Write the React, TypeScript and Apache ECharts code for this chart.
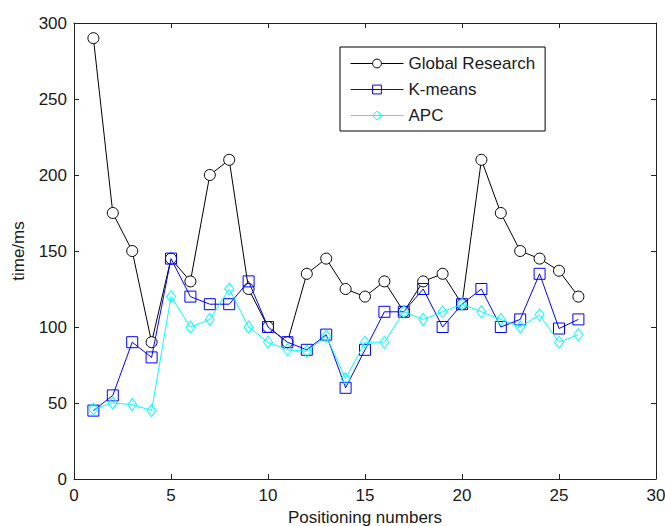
import React, { useEffect, useRef } from "react";
import * as echarts from "echarts";

// Positioning numbers 1..26
const positions = [1, 2, 3, 4, 5, 6, 7, 8, 9, 10, 11, 12, 13, 14, 15, 16, 17, 18, 19, 20, 21, 22, 23, 24, 25, 26];

// Positioning time (ms) for each method
const globalResearch = [290, 175, 150, 90, 145, 130, 200, 210, 125, 100, 90, 135, 145, 125, 120, 130, 110, 130, 135, 115, 210, 175, 150, 145, 137, 120];
const kMeans = [45, 55, 90, 80, 145, 120, 115, 115, 130, 100, 90, 85, 95, 60, 85, 110, 110, 125, 100, 115, 125, 100, 105, 135, 99, 105];
const apc = [46, 50, 49, 45, 120, 100, 105, 125, 100, 90, 85, 84, 94, 66, 90, 90, 110, 105, 110, 115, 110, 105, 100, 108, 90, 95];

const FONT = "'Liberation Sans', Arial, sans-serif";
const TEXT = "#1a1a1a";
const AXIS = "#222222";

const pairs = (ys: number[]) => positions.map((x, i) => [x, ys[i]]);

export default function App() {
  const ref = useRef<HTMLDivElement>(null);

  useEffect(() => {
    if (!ref.current) return;
    const chart = echarts.init(ref.current, undefined, { renderer: "svg" });

    const axisBase = {
      type: "value" as const,
      axisLine: { show: true, onZero: false, lineStyle: { color: AXIS, width: 1 } },
      axisTick: { show: true, inside: true, length: 5, lineStyle: { color: AXIS } },
      splitLine: { show: false },
    };

    chart.setOption({
      animation: false,
      backgroundColor: "#ffffff",
      textStyle: { fontFamily: FONT },
      grid: {
        left: 74,
        right: 9,
        top: 23,
        bottom: 47,
        containLabel: false,
        outerBoundsMode: "none",
      },
      legend: {
        orient: "vertical",
        left: 340,
        top: 47,
        backgroundColor: "#ffffff",
        borderColor: "#000000",
        borderWidth: 1,
        borderRadius: 0,
        padding: [8, 10, 7, 10],
        itemWidth: 53,
        itemHeight: 11,
        itemGap: 9,
        lineStyle: { width: 1 },
        itemStyle: { borderWidth: 1 },
        textStyle: { fontFamily: FONT, fontSize: 17, color: TEXT },
        data: ["Global Research", "K-means", "APC"],
      },
      xAxis: [
        {
          ...axisBase,
          position: "bottom",
          min: 0,
          max: 30,
          interval: 5,
          name: "Positioning numbers",
          nameLocation: "middle",
          nameGap: 29,
          nameTextStyle: { fontFamily: FONT, fontSize: 17, color: TEXT },
          axisLabel: { fontFamily: FONT, fontSize: 17, color: TEXT, margin: 8 },
        },
        {
          ...axisBase,
          position: "top",
          min: 0,
          max: 30,
          interval: 5,
          axisLabel: { show: false },
        },
      ],
      yAxis: [
        {
          ...axisBase,
          position: "left",
          min: 0,
          max: 300,
          interval: 50,
          name: "time/ms",
          nameLocation: "middle",
          nameGap: 47,
          nameTextStyle: { fontFamily: FONT, fontSize: 17, color: TEXT },
          axisLabel: { fontFamily: FONT, fontSize: 17, color: TEXT, margin: 7 },
        },
        {
          ...axisBase,
          position: "right",
          min: 0,
          max: 300,
          interval: 50,
          axisLabel: { show: false },
        },
      ],
      series: [
        {
          name: "Global Research",
          type: "line",
          data: pairs(globalResearch),
          symbol: "circle",
          symbolSize: 11,
          showAllSymbol: true,
          lineStyle: { color: "#000000", width: 1 },
          itemStyle: { color: "#ffffff", borderColor: "#000000", borderWidth: 1 },
          emphasis: { disabled: true },
          z: 2,
        },
        {
          name: "K-means",
          type: "line",
          data: pairs(kMeans),
          symbol: "rect",
          symbolSize: 11,
          showAllSymbol: true,
          lineStyle: { color: "#0000ff", width: 1 },
          itemStyle: { color: "rgba(255,255,255,0)", borderColor: "#0000ff", borderWidth: 1 },
          emphasis: { disabled: true },
          z: 3,
        },
        {
          name: "APC",
          type: "line",
          data: pairs(apc),
          symbol: "diamond",
          symbolSize: [9, 12],
          showAllSymbol: true,
          lineStyle: { color: "#00ffff", width: 1 },
          itemStyle: { color: "rgba(255,255,255,0)", borderColor: "#00ffff", borderWidth: 1 },
          emphasis: { disabled: true },
          z: 4,
        },
      ],
    });

    return () => chart.dispose();
  }, []);

  return <div ref={ref} style={{ width: 665, height: 526, position: "absolute", left: 0, top: 0 }} />;
}
